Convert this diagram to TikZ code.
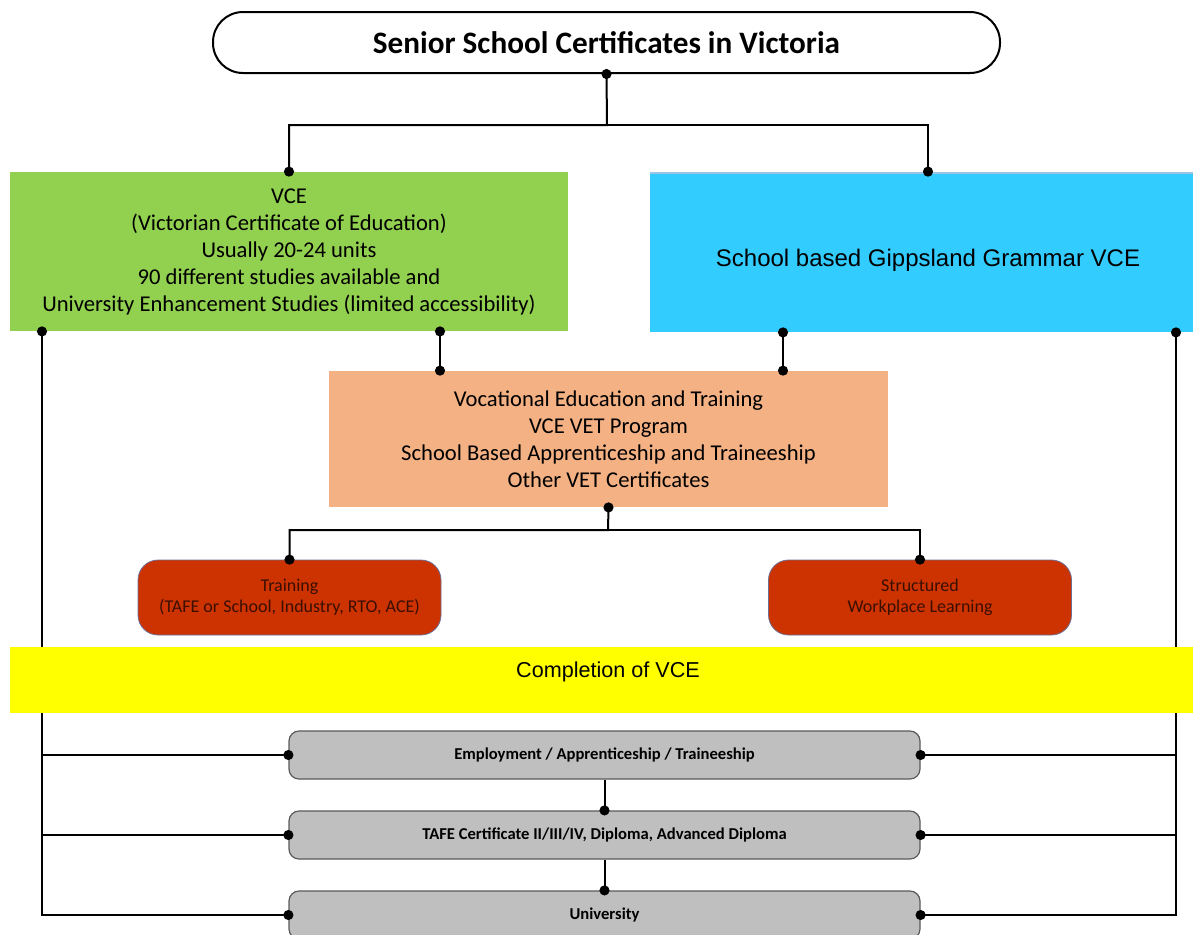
\documentclass[tikz,border=0pt]{standalone}
\usepackage{fontspec}
\setmainfont{Carlito}
\newfontfamily\arialfont{Liberation Sans}
\usetikzlibrary{arrows.meta}
\definecolor{vcegreen}{HTML}{92D050}
\definecolor{gippblue}{HTML}{33CCFF}
\definecolor{gipptop}{HTML}{9DC3E6}
\definecolor{vetorange}{HTML}{F4B183}
\definecolor{trainred}{HTML}{CC3300}
\definecolor{redtext}{HTML}{3B0F00}
\definecolor{pathgray}{HTML}{BFBFBF}
\definecolor{pathedge}{HTML}{595959}
\definecolor{doneyellow}{HTML}{FFFF00}
\begin{document}
\begin{tikzpicture}[x=0.5pt,y=-0.5pt,
  conn/.style={line width=1pt,{Circle[length=5pt]}-{Circle[length=5pt]},shorten <=-2.5pt,shorten >=-2.5pt},
  connend/.style={line width=1pt,-{Circle[length=5pt]},shorten >=-2.5pt},
  plainbox/.style={inner sep=0pt,align=center,font=\fontsize{11.3pt}{13.5pt}\selectfont},
  redbox/.style={draw={rgb,255:red,110;green,110;blue,150},line width=0.4pt,fill=trainred,rounded corners=10pt,
    inner sep=0pt,minimum width=151.5pt,minimum height=37.5pt,align=center,text=redtext,
    font=\fontsize{9pt}{10.5pt}\selectfont},
  graybox/.style={draw=pathedge,line width=0.6pt,fill=pathgray,rounded corners=5pt,inner sep=0pt,
    minimum width=315.5pt,minimum height=24pt,font=\fontsize{8.3pt}{9pt}\selectfont\bfseries}]
  \useasboundingbox (0,0) rectangle (1193,934);
  \node[draw,line width=1pt,fill=white,rounded corners=15pt,minimum width=393.5pt,minimum height=30.5pt,
    inner sep=0pt,font=\fontsize{15.6pt}{17pt}\selectfont\bfseries] (title) at (606.5,42.5) {Senior School Certificates in Victoria};
  \node[plainbox,fill=vcegreen,minimum width=279pt,minimum height=79.5pt] (vce) at (289,251.5)
    {VCE\\(Victorian Certificate of Education)\\Usually 20-24 units\\90 different studies available and\\University Enhancement Studies (limited accessibility)};
  \node[plainbox,fill=gippblue,minimum width=278pt,minimum height=80pt,font=\arialfont\fontsize{12pt}{14pt}\selectfont,
    path picture={\draw[gipptop,line width=2pt] (path picture bounding box.north west) -- (path picture bounding box.north east);}]
    (gipp) at (928,252) {\raisebox{-7pt}[0pt][0pt]{School based Gippsland Grammar VCE}};
  \node[plainbox,fill=vetorange,minimum width=279.5pt,minimum height=68pt] (vet) at (608.5,439)
    {Vocational Education and Training\\VCE VET Program\\School Based Apprenticeship and Traineeship\\Other VET Certificates};
  \node[redbox] (train) at (289.5,597.5) {Training\\(TAFE or School, Industry, RTO, ACE)};
  \node[redbox] (swl) at (920,597.5) {Structured\\Workplace Learning};
  \node[graybox] (emp) at (604.5,755) {Employment / Apprenticeship / Traineeship};
  \node[graybox] (tafe) at (604.5,835) {TAFE Certificate II/III/IV, Diploma, Advanced Diploma};
  \node[graybox] (uni) at (604.5,915) {University};
  \coordinate (split1) at (607,125);
  \coordinate (split2) at (608,530);
  \coordinate (vceL) at ([xshift=-123.5pt]vce.south);
  \coordinate (gippR) at ([xshift=124pt]gipp.south);
  % top level
  \draw[conn] (title.south) -- (split1) -| (vce.north);
  \draw[connend] (split1) -| (gipp.north);
  % into VET
  \draw[conn] ([xshift=75.5pt]vce.south) -- ([xshift=-84.25pt]vet.north);
  \draw[conn] ([xshift=-72.5pt]gipp.south) -- ([xshift=87.25pt]vet.north);
  \draw[conn] (vet.south) -- (split2) -| (train.north);
  \draw[connend] (split2) -| (swl.north);
  % pathways
  \draw[conn] (vceL) |- (uni.west);
  \draw[connend] (emp.west -| vceL) -- (emp.west);
  \draw[connend] (tafe.west -| vceL) -- (tafe.west);
  \draw[conn] (gippR) |- (uni.east);
  \draw[connend] (emp.east -| gippR) -- (emp.east);
  \draw[connend] (tafe.east -| gippR) -- (tafe.east);
  \draw[connend] (emp.south) -- (tafe.north);
  \draw[connend] (tafe.south) -- (uni.north);
  \node[fill=doneyellow,minimum width=598pt,inner xsep=0pt,inner ysep=1pt,text height=14pt,text depth=17pt,
    font=\arialfont\fontsize{10.8pt}{12pt}\selectfont] (done) at (608,680) {Completion of VCE};
\end{tikzpicture}
\end{document}
